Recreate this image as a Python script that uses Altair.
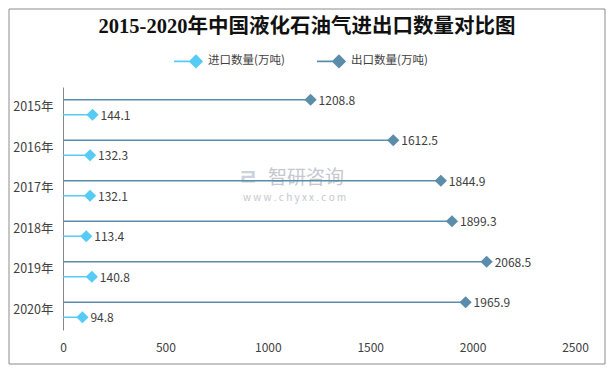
import altair as alt
import pandas as pd

years = ["2015年", "2016年", "2017年", "2018年", "2019年", "2020年"]
imports = [144.1, 132.3, 132.1, 113.4, 140.8, 94.8]
exports = [1208.8, 1612.5, 1844.9, 1899.3, 2068.5, 1965.9]
series_names = ["进口数量(万吨)", "出口数量(万吨)"]
series_colors = ["#55CBF5", "#5B8DAA"]
title_text = "2015-2020年中国液化石油气进出口数量对比图"
x_ticks = [0, 500, 1000, 1500, 2000, 2500]

rows = []
for i, y in enumerate(years):
    rows.append({"year": y, "series": series_names[0], "value": imports[i], "zero": 0, "label": f"{imports[i]:.1f}"})
    rows.append({"year": y, "series": series_names[1], "value": exports[i], "zero": 0, "label": f"{exports[i]:.1f}"})
df = pd.DataFrame(rows)

FONT = "Noto Sans CJK SC"
TXT = "#404040"

yenc = alt.Y("year:N", sort=years, title=None,
             scale=alt.Scale(paddingInner=0, paddingOuter=0),
             axis=alt.Axis(domain=True, domainColor="#868686", domainWidth=1, ticks=False,
                           labelFont=FONT, labelFontSize=12.5, labelColor=TXT, labelPadding=10,
                           grid=False))
yoff = alt.YOffset("series:N", sort=[series_names[1], series_names[0]],
                   scale=alt.Scale(paddingInner=0, paddingOuter=0.35))
xenc = alt.X("value:Q", title=None,
             scale=alt.Scale(domain=[0, 2500], nice=False),
             axis=alt.Axis(values=x_ticks, format="d", domain=False, ticks=False, grid=False,
                           labelFlush=False,
                           labelFont=FONT, labelFontSize=12, labelColor=TXT, labelPadding=12))
cscale = alt.Scale(domain=series_names, range=series_colors)

# legend symbol: a line ending in a diamond (diamond drawn as concentric outlines)
legend_path = ("M-1,0L0.57,0"
               "M0.14,0L0.57,-0.43L1,0L0.57,0.43Z"
               "M0.27,0L0.57,-0.3L0.87,0L0.57,0.3Z"
               "M0.4,0L0.57,-0.17L0.74,0L0.57,0.17Z"
               "M0.52,0L0.57,-0.05L0.62,0L0.57,0.05Z")
leg = alt.Legend(title=None, orient="none", legendX=110, legendY=-41, direction="horizontal",
                 symbolType=legend_path, symbolSize=784, symbolStrokeWidth=1.6,
                 labelFont=FONT, labelFontSize=11.5, labelColor=TXT, columnPadding=28,
                 labelOffset=5)

base = alt.Chart(df)

rules = base.mark_rule(strokeWidth=1.5).encode(
    y=yenc, yOffset=yoff, x=xenc, x2="zero:Q",
    color=alt.Color("series:N", scale=cscale, legend=leg),
)

points = base.mark_point(shape="diamond", size=150, filled=True, opacity=1).encode(
    y=yenc, yOffset=yoff, x=xenc,
    color=alt.Color("series:N", scale=cscale, legend=leg),
)

labels = base.mark_text(align="left", baseline="middle", dx=8, dy=1, font=FONT,
                        fontSize=12, color=TXT).encode(
    y=yenc, yOffset=yoff, x=xenc, text="label:N",
)

one = alt.Chart(pd.DataFrame({"a": [0]}))
border = one.mark_rect(fill=None, stroke="#8C8C8C", strokeWidth=1).encode(
    x=alt.value(-54), x2=alt.value(542), y=alt.value(-78), y2=alt.value(277))
title = one.mark_text(font="Liberation Serif, Noto Sans CJK SC", fontSize=20.5, fontWeight="bold",
                      color="#111111", align="center", baseline="middle").encode(
    x=alt.value(244), y=alt.value(-60), text=alt.value(title_text))
wm1 = one.mark_text(font=FONT, fontSize=19, color="#C4C8CE", align="left", baseline="middle").encode(
    x=alt.value(205), y=alt.value(91), text=alt.value("智研咨询"))
wm2 = one.mark_text(font=FONT, fontSize=10, color="#C4C8CE", align="left", baseline="middle").encode(
    x=alt.value(180), y=alt.value(111), text=alt.value("w w w . c h y x x . c o m"))
wm3 = one.mark_text(font=FONT, fontSize=22, fontWeight="bold", color="#C9D3DE", align="left",
                    baseline="middle").encode(
    x=alt.value(175), y=alt.value(91), text=alt.value("ㄹ"))

chart = alt.layer(border, wm3, wm1, wm2, rules, points, labels, title).properties(
    width=512, height=243,
    autosize=alt.AutoSizeParams(type="none"),
    padding={"left": 55, "top": 79, "right": 31, "bottom": 36},
    background="white",
).configure_view(stroke=None)

chart.save("out.html", embed_options={"renderer": "svg", "actions": False})
